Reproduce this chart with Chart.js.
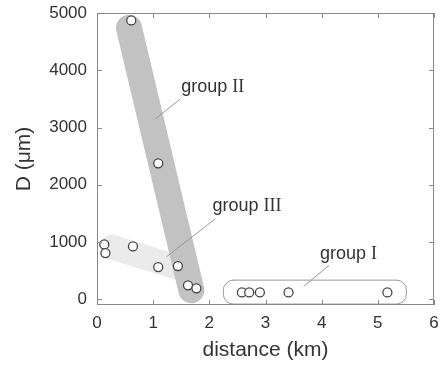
<!DOCTYPE html>
<html>
<head>
<meta charset="utf-8">
<script src="https://cdn.jsdelivr.net/npm/chart.js@4/dist/chart.umd.min.js"></script>
<style>
  html, body { margin: 0; padding: 0; background: #fff; }
  #wrap { width: 441px; height: 370px; }
</style>
</head>
<body>
<div id="wrap"><canvas id="chart"></canvas></div>
<script>
// Measured points (distance in km, D in µm)
const groupIDist = [2.58, 2.71, 2.90, 3.41, 5.17];
const groupID = [120, 120, 120, 120, 120];
const groupIIDist = [0.61, 1.09, 1.62, 1.77];
const groupIID = [4870, 2375, 244, 192];
const groupIIIDist = [0.13, 0.15, 0.64, 1.09, 1.44];
const groupIIID = [958, 807, 923, 563, 580];

// Axis ticks
const xTicks = [0, 1, 2, 3, 4, 5, 6];
const yTicks = [0, 1000, 2000, 3000, 4000, 5000];

// Group outlines (data units)
const bandII = [[0.57, 4740], [1.68, 157]];
const bandIII = [[0.28, 906], [1.375, 575]];
const boxI = [[2.24, 343], [5.5, -75]];

// Group labels: text, numeral, anchor, leader line
const groupLabels = [
    { text: 'group ', num: 'II', at: [1.5, 3624], line: [[1.48, 3496], [1.036, 3148]] },
    { text: 'group ', num: 'III', at: [2.055, 1550], line: [[2.107, 1406], [1.232, 737]] },
    { text: 'group ', num: 'I', at: [3.97, 697], line: [[4.13, 592], [3.68, 226]] }
];

const toPoints = (xs, ys) => xs.map((x, i) => ({ x: x, y: ys[i] }));

// Shaded groups behind the points
const groupShapes = {
    id: 'groupShapes',
    beforeDatasetsDraw(chart) {
        const { ctx, scales: { x, y } } = chart;
        const px = p => [x.getPixelForValue(p[0]), y.getPixelForValue(p[1])];
        ctx.save();
        ctx.lineCap = 'round';

        // group III (light)
        let a = px(bandIII[0]), b = px(bandIII[1]);
        ctx.strokeStyle = '#ebebeb';
        ctx.lineWidth = 25;
        ctx.beginPath(); ctx.moveTo(a[0], a[1]); ctx.lineTo(b[0], b[1]); ctx.stroke();

        // group II (darker)
        a = px(bandII[0]); b = px(bandII[1]);
        ctx.strokeStyle = '#c2c2c2';
        ctx.lineWidth = 26;
        ctx.beginPath(); ctx.moveTo(a[0], a[1]); ctx.lineTo(b[0], b[1]); ctx.stroke();

        // group I box
        a = px(boxI[0]); b = px(boxI[1]);
        ctx.fillStyle = '#fff';
        ctx.strokeStyle = '#9a9a9a';
        ctx.lineWidth = 1;
        ctx.beginPath();
        ctx.roundRect(a[0] + 0.5, a[1] + 0.5, b[0] - a[0], b[1] - a[1], 10);
        ctx.fill(); ctx.stroke();

        // leader lines and labels
        groupLabels.forEach(g => {
            const p1 = px(g.line[0]), p2 = px(g.line[1]);
            ctx.strokeStyle = '#999';
            ctx.lineWidth = 1;
            ctx.lineCap = 'butt';
            ctx.beginPath(); ctx.moveTo(p1[0], p1[1]); ctx.lineTo(p2[0], p2[1]); ctx.stroke();
            const t = px(g.at);
            ctx.fillStyle = '#333';
            ctx.textBaseline = 'alphabetic';
            ctx.textAlign = 'left';
            ctx.font = '18px "Liberation Sans", Arial, sans-serif';
            ctx.fillText(g.text, t[0], t[1]);
            const w = ctx.measureText(g.text).width;
            ctx.font = '18px "Liberation Serif", "Times New Roman", serif';
            ctx.fillText(g.num, t[0] + w, t[1]);
        });
        ctx.restore();
    }
};

// Box frame with inward ticks on every side
const frame = {
    id: 'frame',
    afterDatasetsDraw(chart) {
        const { ctx, chartArea: a, scales: { x, y } } = chart;
        ctx.save();
        ctx.strokeStyle = '#8a8a8a';
        ctx.lineWidth = 1;
        ctx.strokeRect(a.left + 0.5, a.top + 0.5, a.right - a.left - 1, a.bottom - a.top - 1);
        ctx.beginPath();
        xTicks.forEach(v => {
            const p = Math.round(x.getPixelForValue(v)) + 0.5;
            ctx.moveTo(p, a.bottom); ctx.lineTo(p, a.bottom - 5);
            ctx.moveTo(p, a.top); ctx.lineTo(p, a.top + 5);
        });
        yTicks.forEach(v => {
            const p = Math.round(y.getPixelForValue(v)) + 0.5;
            ctx.moveTo(a.left, p); ctx.lineTo(a.left + 5, p);
            ctx.moveTo(a.right, p); ctx.lineTo(a.right - 5, p);
        });
        ctx.stroke();
        ctx.restore();
    }
};

const pointStyle = {
    showLine: false,
    pointRadius: 4.5,
    pointHoverRadius: 4.5,
    pointBackgroundColor: '#fff',
    pointBorderColor: '#444',
    pointBorderWidth: 1.3
};

const tickFont = { family: '"Liberation Sans", Arial, sans-serif', size: 17 };
const titleFont = { family: '"Liberation Sans", Arial, sans-serif', size: 21 };

new Chart(document.getElementById('chart'), {
    type: 'scatter',
    data: {
        datasets: [
            { label: 'group I', data: toPoints(groupIDist, groupID), ...pointStyle },
            { label: 'group II', data: toPoints(groupIIDist, groupIID), ...pointStyle },
            { label: 'group III', data: toPoints(groupIIIDist, groupIIID), ...pointStyle }
        ]
    },
    options: {
        responsive: true,
        maintainAspectRatio: false,
        animation: false,
        layout: { padding: { top: 13, right: 7, left: 0, bottom: 0 } },
        plugins: { legend: { display: false }, tooltip: { enabled: false } },
        scales: {
            x: {
                type: 'linear',
                min: 0, max: 6,
                afterBuildTicks: s => { s.ticks = xTicks.map(v => ({ value: v })); },
                afterFit: s => { s.height = 65; s.paddingLeft = 0; s.paddingRight = 0; },
                grid: { display: false, drawTicks: false },
                border: { display: false },
                ticks: { color: '#333', font: tickFont, padding: 8, callback: v => String(v) },
                title: { display: true, text: 'distance (km)', color: '#333', font: titleFont, padding: { bottom: 7 } }
            },
            y: {
                type: 'linear',
                min: -100, max: 5000,
                afterBuildTicks: s => { s.ticks = yTicks.map(v => ({ value: v })); },
                afterFit: s => { s.width = 97; s.paddingTop = 0; s.paddingBottom = 0; },
                grid: { display: false, drawTicks: false },
                border: { display: false },
                ticks: { color: '#333', font: tickFont, padding: 10, callback: v => String(v) },
                title: { display: true, text: 'D (μm)', color: '#333', font: titleFont, padding: { top: 12 } }
            }
        }
    },
    plugins: [groupShapes, frame]
});
</script>
</body>
</html>
